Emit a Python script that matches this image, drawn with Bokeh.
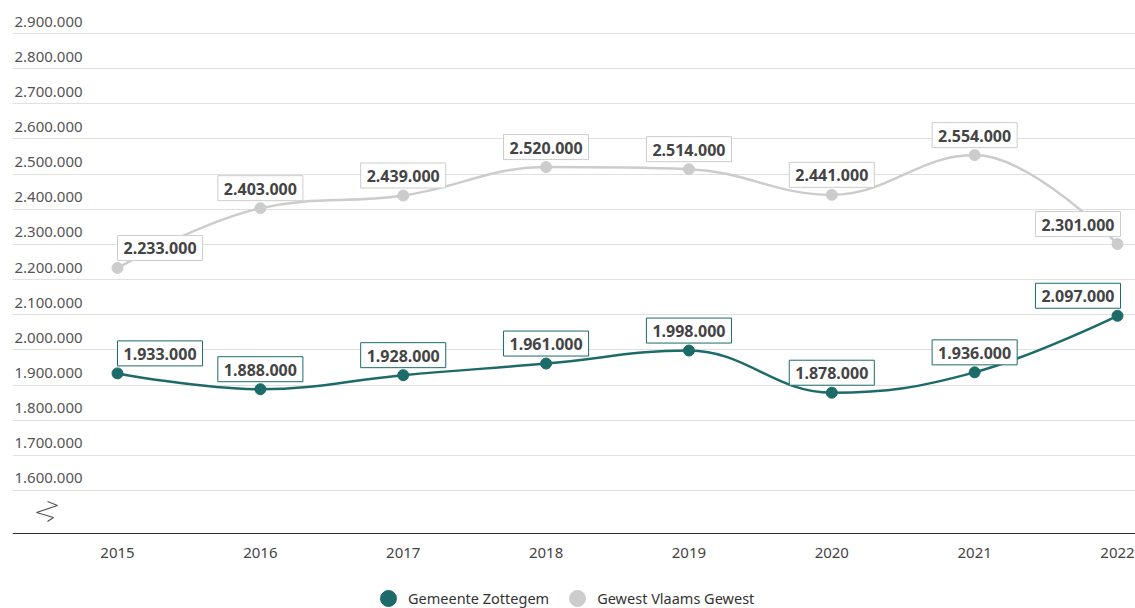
import numpy as np
from bokeh.plotting import figure
from bokeh.models import Range1d, FixedTicker, ColumnDataSource, Legend, LegendItem, Span
from bokeh.core.properties import value
from bokeh.embed import file_html
from bokeh.resources import INLINE

years = [2015, 2016, 2017, 2018, 2019, 2020, 2021, 2022]
zottegem = [1933000, 1888000, 1928000, 1961000, 1998000, 1878000, 1936000, 2097000]
vlaams = [2233000, 2403000, 2439000, 2520000, 2514000, 2441000, 2554000, 2301000]
series_names = ["Gemeente Zottegem", "Gewest Vlaams Gewest"]
y_ticks = [1600000, 1700000, 1800000, 1900000, 2000000, 2100000, 2200000, 2300000,
           2400000, 2500000, 2600000, 2700000, 2800000, 2900000]
axis_floor = 1477500

TEAL = "#1d6b69"
GRAY = "#cccccc"
FONT = "Noto Sans"


def fmt(v):
    return f"{v:,}".replace(",", ".")


def spline(xs, ys, smoothing=1.5):
    """Highcharts-style spline control points -> bezier segments."""
    n = len(xs)
    lc = [(x, y) for x, y in zip(xs, ys)]
    rc = [(x, y) for x, y in zip(xs, ys)]
    d = smoothing + 1
    for i in range(1, n - 1):
        px, py = xs[i], ys[i]
        lx, ly = xs[i - 1], ys[i - 1]
        nx, ny = xs[i + 1], ys[i + 1]
        lcx = (smoothing * px + lx) / d
        lcy = (smoothing * py + ly) / d
        rcx = (smoothing * px + nx) / d
        rcy = (smoothing * py + ny) / d
        corr = (rcy - lcy) * (rcx - px) / (rcx - lcx) + py - rcy
        lcy += corr
        rcy += corr
        if lcy > ly and lcy > py:
            lcy = max(ly, py); rcy = 2 * py - lcy
        elif lcy < ly and lcy < py:
            lcy = min(ly, py); rcy = 2 * py - lcy
        if rcy > ny and rcy > py:
            rcy = max(ny, py); lcy = 2 * py - rcy
        elif rcy < ny and rcy < py:
            rcy = min(ny, py); lcy = 2 * py - rcy
        lc[i] = (lcx, lcy)
        rc[i] = (rcx, rcy)
    seg = dict(x0=xs[:-1], y0=ys[:-1], x1=xs[1:], y1=ys[1:],
               cx0=[rc[i][0] for i in range(n - 1)], cy0=[rc[i][1] for i in range(n - 1)],
               cx1=[lc[i + 1][0] for i in range(n - 1)], cy1=[lc[i + 1][1] for i in range(n - 1)])
    return seg


W, H = 1135, 608
LEFT = 12
PX_PER_UNIT_Y = 351.5 / 1e6
PX_PER_YEAR = 1000 / 7
x_start = years[0] - (117 - LEFT) / PX_PER_YEAR
x_end = x_start + (W - LEFT) / PX_PER_YEAR
y_end = 2900000 + 33 / PX_PER_UNIT_Y
y_start = y_end - H / PX_PER_UNIT_Y

p = figure(width=W, height=H, output_backend="svg", toolbar_location=None,
           x_range=Range1d(x_start, x_end), y_range=Range1d(y_start, y_end),
           min_border_left=LEFT, min_border_right=0, min_border_top=0, min_border_bottom=0)
p.outline_line_color = None
p.background_fill_color = "white"

p.yaxis.visible = False
p.xaxis.visible = False
p.xgrid.visible = False
p.ygrid.ticker = FixedTicker(ticks=y_ticks)
p.ygrid.grid_line_color = "#e0e0e0"
p.ygrid.grid_line_width = 1

# x axis line and labels
p.add_layout(Span(location=axis_floor, dimension="width", line_color="#333333", line_width=1))
p.text(x=years, y=[axis_floor] * len(years), text=[str(y) for y in years],
       y_offset=19, text_align="center", text_baseline="middle",
       text_font=value(FONT), text_font_size="15px", text_color="#444444")

# y tick labels sitting above the grid lines
p.text(x=[x_start] * len(y_ticks), y=y_ticks, text=[fmt(v) for v in y_ticks],
       x_offset=2, y_offset=-12, text_align="left", text_baseline="middle",
       text_font=value(FONT), text_font_size="15px", text_color="#555555")

# axis break symbol (drawn in screen offsets from the axis corner)
xs_px = np.array([35, 45, 24, 41, 35])
ys_px = np.array([32, 28, 21, 16, 12])
bx = x_start + xs_px / PX_PER_YEAR
by = axis_floor + ys_px / PX_PER_UNIT_Y
p.line(bx, by, line_color="#555555", line_width=1.2)

for vals, col in [(vlaams, GRAY), (zottegem, TEAL)]:
    seg = spline([float(v) for v in years], [float(v) for v in vals])
    p.bezier(source=ColumnDataSource(seg), x0="x0", y0="y0", x1="x1", y1="y1",
             cx0="cx0", cy0="cy0", cx1="cx1", cy1="cy1", line_color=col, line_width=2.5)
    p.scatter(years, vals, size=11, fill_color=col, line_color=col)

for vals, col in [(vlaams, GRAY), (zottegem, TEAL)]:
    n = len(vals)
    align = ["left"] + ["center"] * (n - 2) + ["right"]
    xoff = [0] + [0] * (n - 2) + [3]
    src = ColumnDataSource(dict(x=years, y=vals, t=[fmt(v) for v in vals], a=align, xo=xoff))
    p.text(source=src, x="x", y="y", text="t", text_align="a", x_offset="xo", y_offset=-20,
           text_baseline="middle", text_font=value(FONT), text_font_size="16px",
           text_font_style="bold", text_color="#444444",
           background_fill_color="white", border_line_color=col, border_line_width=1,
           padding=dict(left=6, right=6, top=7, bottom=6))

# legend proxies (one point each, placed outside the visible range)
off = [y_end * 10]
lz = p.scatter(x=[years[0]], y=off, size=16, fill_color=TEAL, line_color=TEAL)
lv = p.scatter(x=[years[0]], y=off, size=16, fill_color=GRAY, line_color=GRAY)
legend = Legend(items=[LegendItem(label=series_names[0], renderers=[lz]),
                       LegendItem(label=series_names[1], renderers=[lv])],
                orientation="horizontal", location=(356, -10),
                border_line_color=None, background_fill_alpha=0,
                label_text_font=FONT, label_text_font_size="14.5px", label_text_color="#333333",
                glyph_width=40, glyph_height=40, label_standoff=0, spacing=8,
                padding=0, margin=0, label_height=16)
p.add_layout(legend)

open("out.html", "w").write(file_html(p, INLINE))
